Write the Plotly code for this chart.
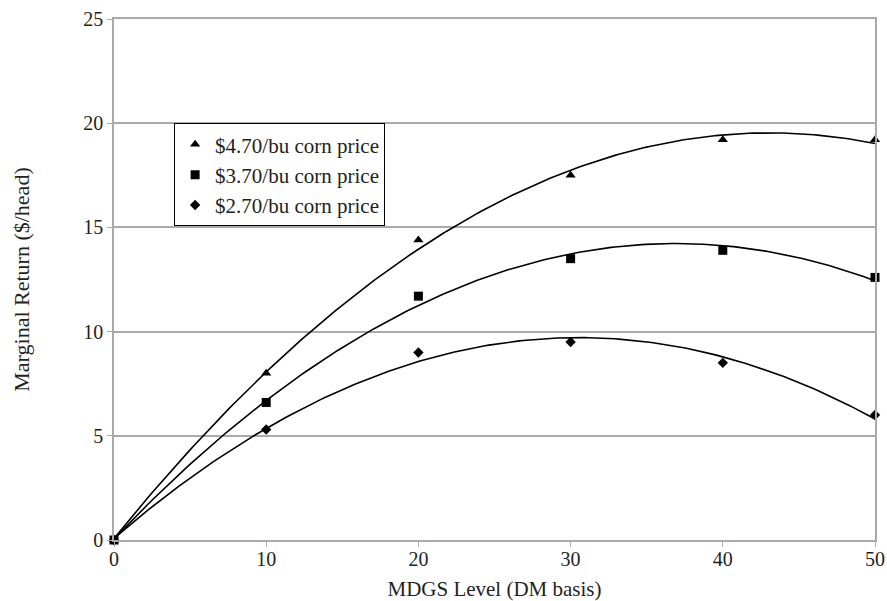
import numpy as np
import plotly.graph_objects as go

mdgs_level = [0, 10, 20, 30, 40, 50]
return_470 = [0, 8.0, 14.4, 17.5, 19.2, 19.2]
return_370 = [0, 6.6, 11.7, 13.5, 13.9, 12.6]
return_270 = [0, 5.3, 9.0, 9.5, 8.5, 6.0]
series_names = ["$4.70/bu corn price", "$3.70/bu corn price", "$2.70/bu corn price"]
series_values = [return_470, return_370, return_270]
series_symbols = ["triangle-up", "square", "diamond"]
x_ticks = [0, 10, 20, 30, 40, 50]
y_ticks = [0, 5, 10, 15, 20, 25]

FONT = "Liberation Serif, Times New Roman, serif"
fig = go.Figure()
xs = np.linspace(0, 50, 200)
for name, vals, sym in zip(series_names, series_values, series_symbols):
    coef = np.polyfit(mdgs_level, vals, 2)
    fig.add_trace(go.Scatter(x=xs, y=np.polyval(coef, xs), mode="lines",
                             line=dict(color="black", width=1.6),
                             showlegend=False, hoverinfo="skip"))
    fig.add_trace(go.Scatter(x=mdgs_level, y=vals, mode="markers", name=name,
                             marker=dict(symbol=sym, color="black", size=9 if sym != "diamond" else 8),
                             cliponaxis=False))

fig.update_layout(
    width=887, height=601,
    margin=dict(l=114, r=12, t=19, b=61),
    paper_bgcolor="white", plot_bgcolor="white",
    font=dict(family=FONT, size=20, color="#231f20"),
    showlegend=True,
    legend=dict(x=0.079, y=0.80, xanchor="left", yanchor="top",
                bordercolor="black", borderwidth=1, bgcolor="white",
                font=dict(family=FONT, size=21, color="#231f20"),
                itemwidth=30, tracegroupgap=0),
    xaxis=dict(range=[0, 50], tickvals=x_ticks, showgrid=False, zeroline=False,
               showline=True, linecolor="#aaaaaa", linewidth=1.5, mirror=True,
               ticks="outside", ticklen=5, tickcolor="#aaaaaa", automargin=False,
               ticklabelstandoff=-5,
               title=dict(text="MDGS Level (DM basis)", standoff=22,
                          font=dict(family=FONT, size=21)),
               tickfont=dict(family=FONT, size=20)),
    yaxis=dict(range=[0, 25], tickvals=y_ticks, showgrid=True, gridcolor="#aaaaaa",
               gridwidth=1.5, zeroline=False,
               showline=True, linecolor="#aaaaaa", linewidth=1.5, mirror=True,
               ticks="outside", ticklen=5, tickcolor="#aaaaaa", automargin=False,
               title=dict(text="Marginal Return ($/head)", standoff=48,
                          font=dict(family=FONT, size=22)),
               tickfont=dict(family=FONT, size=20)),
)
fig.write_html("out.html", config={"displayModeBar": False},
               post_script="document.body.style.margin='0';document.body.style.overflow='hidden';")
